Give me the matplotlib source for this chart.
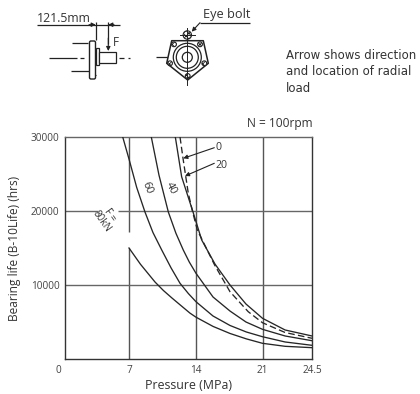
import numpy as np
import matplotlib
matplotlib.use("Agg")
import matplotlib.pyplot as plt
from matplotlib.patches import Circle, Polygon, Rectangle, FancyBboxPatch
from matplotlib.transforms import ScaledTranslation

plt.rcParams['font.family'] = ['Open Sans', 'DejaVu Sans']

# data (the source x axis is not drawn to scale past 21 MPa)
x_ticks = [0, 7, 14, 21, 24.5]
x_tick_pos = [0, 64.5, 131.5, 198, 247.5]
x_labels = ['0', '7', '14', '21', '24.5']
y_ticks = [10000, 20000, 30000]
y_labels = ['10000', '20000', '30000']

p80 = [7.0, 8.2, 9.72, 10.6, 11.49, 12.4, 13.37, 14.0, 15.8, 17.58, 19.3, 21.0, 22.6, 24.5]
l80 = [15000, 12800, 10400, 9250, 8240, 7250, 6200, 5650, 4400, 3450, 2720, 2120, 1715, 1530]
p60 = [6.32, 7.03, 7.8, 8.67, 9.5, 10.42, 11.4, 12.33, 13.2, 14.0, 15.79, 17.58, 19.3, 21.0, 22.6, 24.5]
l60 = [30000, 26880, 23200, 19860, 17100, 14730, 12300, 10230, 8850, 7740, 5810, 4530, 3650, 3010, 2300, 1850]
p40 = [9.33, 10.13, 11.11, 11.9, 12.67, 13.3, 14.0, 15.79, 17.58, 19.26, 21.0, 22.6, 24.5]
l40 = [30000, 24860, 19860, 17000, 14730, 13100, 11580, 8380, 6480, 5000, 4010, 3110, 2470]
p0 = [11.84, 12.5, 13.69, 14.6, 16.0, 17.58, 19.26, 21.0, 22.6, 24.5]
l0 = [30000, 24630, 19860, 16080, 12830, 10000, 7430, 5500, 3920, 3110]
p20 = [12.33, 12.67, 13.19, 13.65, 14.14, 15.96, 17.58, 19.5, 21.0, 22.6, 24.5]
l20 = [30000, 26880, 22430, 19860, 17430, 12700, 9090, 6390, 4900, 3580, 2800]

W, H = 420, 394
fig = plt.figure(figsize=(W/100, H/100), dpi=100)
L, R, T, B = 64.5, 312, 137, 359
ax = fig.add_axes([L/W, 1-B/H, (R-L)/W, (B-T)/H])

def fwd(v): return np.interp(v, x_ticks, x_tick_pos)
def inv(v): return np.interp(v, x_tick_pos, x_ticks)
ax.set_xscale('function', functions=(fwd, inv))
ax.set_xlim(0, 24.5)
ax.set_ylim(0, 30000)
ax.set_xticks(x_ticks, x_labels)
ax.set_yticks(y_ticks, y_labels)
ax.minorticks_off()
ax.tick_params(length=0, labelsize=7.2, colors='#444444')
ax.tick_params(axis='x', pad=4.5)
ax.tick_params(axis='y', pad=3.5)
lab0 = ax.get_xticklabels()[0]
lab0.set_transform(lab0.get_transform() + ScaledTranslation(-6.5/100, 0, fig.dpi_scale_trans))
ax.set_xlabel('Pressure (MPa)', fontsize=8.9, color='#333333', labelpad=2)
ax.set_ylabel('Bearing life (B-10Life) (hrs)', fontsize=8.6, color='#333333', labelpad=7)
for s in ax.spines.values():
    s.set_linewidth(1.0); s.set_color('#333333')
ax.spines['top'].set_color('#666666')

grid = '#555555'
ax.vlines([14, 21], 0, 30000, color=grid, lw=1.0, zorder=1)
ax.vlines(7, 0, 15000, color=grid, lw=1.0, zorder=1)
ax.vlines(7, 17200, 30000, color=grid, lw=1.0, zorder=1)
ax.hlines(10000, 0, 24.5, color='#666666', lw=1.0, zorder=1)
ax.hlines(20000, 0, 3.6, color='#666666', lw=1.0, zorder=1)
ax.hlines(20000, 5.8, 24.5, color='#666666', lw=1.0, zorder=1)

for p, l, ls in [(p80, l80, '-'), (p60, l60, '-'), (p40, l40, '-'), (p0, l0, '-'), (p20, l20, (0, (5, 2.5)))]:
    ax.plot(p, l, color='#262626', lw=0.95, ls=ls, zorder=3)

fs = 7.8
ax.text(4.45, 19000, 'F =\n80kN', fontsize=7, rotation=-55, ha='center', va='center', color='#333333',
        linespacing=0.95, rotation_mode='anchor', zorder=2)
ax.text(8.85, 23200, '60', fontsize=fs, rotation=-68, ha='center', va='center', color='#333333')
ax.text(11.36, 23060, '40', fontsize=fs, rotation=-62, ha='center', va='center', color='#333333')

# overlay in pixel coordinates for the schematics and callouts
ov = fig.add_axes([0, 0, 1, 1], facecolor='none')
ov.set_xlim(0, W); ov.set_ylim(H, 0); ov.axis('off')
c = '#222222'
def ln(xs, ys, lw=0.9, ls='-', col=c):
    ov.plot(xs, ys, color=col, lw=lw, ls=ls, solid_capstyle='butt')
def arrow(x0, y0, x1, y1):
    ov.annotate('', xy=(x1, y1), xytext=(x0, y0),
                arrowprops=dict(arrowstyle='-|>', color=c, lw=0.8, mutation_scale=6, shrinkA=0, shrinkB=0))

# callouts
arrow(214.3, 147.7, 183.3, 158.3)
ov.text(216, 147.3, '0', fontsize=7.6, va='center', color='#333333')
arrow(214.3, 163.3, 185, 176)
ov.text(215, 165.7, '20', fontsize=7.6, va='center', color='#333333')

# text
tkw = dict(fontsize=8.5, color='#333333', va='center', family='DejaVu Sans')
ov.text(286, 55, 'Arrow shows direction', **tkw)
ov.text(286, 71.5, 'and location of radial', **tkw)
ov.text(286, 88, 'load', **tkw)
ov.text(247, 123, 'N = 100rpm', fontsize=8.6, color='#333333', va='center')
ov.text(37, 18, '121.5mm', fontsize=8.8, color='#333333', va='center')
ov.text(203, 14, 'Eye bolt', fontsize=9.2, color='#333333', va='center')
ov.text(113, 42, 'F', fontsize=8.4, color='#333333', va='center')

# side view
ln([37, 120], [24.7, 24.7])
ln([95.7, 95.7], [21.7, 40]); ln([108.3, 108.3], [21.7, 44])
arrow(108.3, 38, 108.3, 51)
arrow(89, 24.7, 95.7, 24.7); arrow(114, 24.7, 108.3, 24.7)
ln([71.7, 88.3], [42.7, 42.7]); ln([70.7, 89], [71, 71])
ln([49, 76.7], [57.7, 57.7]); ln([80, 84.3], [57.7, 57.7])
ln([119, 124], [57.7, 57.7]); ln([128, 130], [57.7, 57.7])
ov.add_patch(FancyBboxPatch((89.5, 41), 6, 38, boxstyle='round,pad=0,rounding_size=1.5',
                            fc='white', ec=c, lw=1.0, zorder=3))
ln([89.5, 95.5], [75, 75])
ov.add_patch(Rectangle((96, 48), 3, 17, fc='white', ec=c, lw=0.9, zorder=3))
ov.add_patch(Rectangle((99, 51.7), 16.7, 11.6, fc='white', ec=c, lw=0.9, zorder=3))

# front view
cx, cy = 187.3, 57.3
ln([156, 171], [57.3, 57.3])
ov.add_patch(Polygon([[171.7, 40.7], [203.3, 40.7], [208.3, 63.3], [187.7, 80], [166.7, 63.3]], closed=True,
                     fc='white', ec=c, lw=1.1, joinstyle='round', zorder=2))
for r in (5, 11, 14):
    ov.add_patch(Circle((cx, cy), r, fc='none', ec=c, lw=0.9, zorder=3))
plt.rcParams['hatch.linewidth'] = 0.6
for bx, by in [(174, 44.3), (200, 44.3), (170, 63.3), (204.3, 63.3), (187.7, 76), (187.3, 35)]:
    r = 4.2 if by == 35 else 2.4
    ov.add_patch(Circle((bx, by), r, fc='white', ec=c, lw=0.8, hatch='xxxxxx', zorder=4))
ov.plot([187.3, 187.3], [28, 85], color=c, lw=0.7, zorder=5)
ov.plot([180, 195], [35, 35], color=c, lw=0.7, zorder=5)
ln([200, 250], [22.7, 22.7])
arrow(200, 22.7, 191.7, 31.7)

fig.savefig('out.png', dpi=100)
